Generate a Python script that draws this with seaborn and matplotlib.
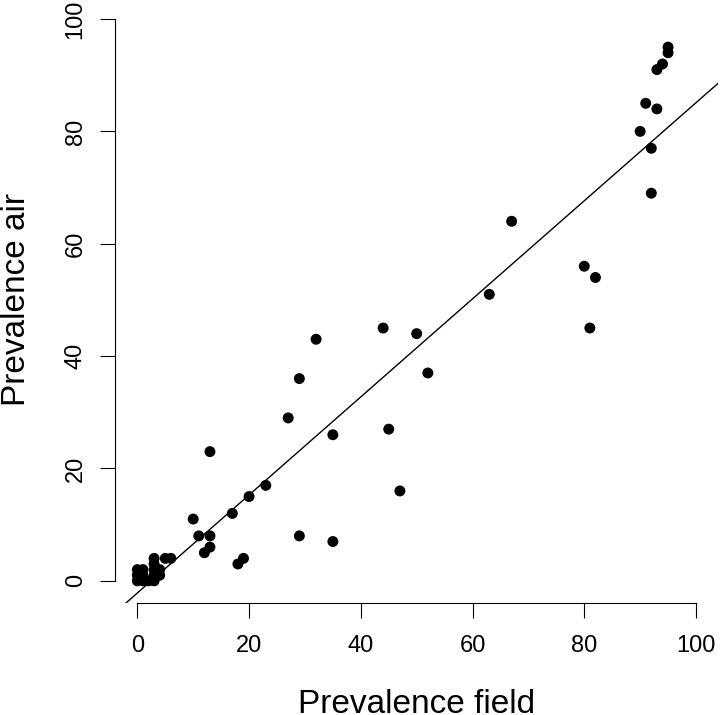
import matplotlib
matplotlib.use("Agg")
import matplotlib.pyplot as plt
import seaborn as sns
import pandas as pd

# prevalence values (percent)
field = [95, 95, 94, 93, 91, 93, 90, 92, 92,
         67, 63, 80, 82, 81,
         32, 44, 50, 52, 29, 27, 35, 45, 47,
         23, 20, 29, 35, 13, 17, 10, 11, 13, 13, 12, 19, 18, 5, 6,
         0, 0, 0, 1, 1, 1, 2, 3, 3, 3, 3, 3, 4, 4]
air = [95, 94, 92, 91, 85, 84, 80, 77, 69,
       64, 51, 56, 54, 45,
       43, 45, 44, 37, 36, 29, 26, 27, 16,
       17, 15, 8, 7, 23, 12, 11, 8, 8, 6, 5, 4, 3, 4, 4,
       0, 1, 2, 0, 1, 2, 0, 0, 1, 2, 3, 4, 1, 2]

ticks = [0, 20, 40, 60, 80, 100]

sns.set_style("ticks", {"axes.edgecolor": "black", "xtick.color": "black",
                        "ytick.color": "black", "text.color": "black",
                        "axes.labelcolor": "black"})
plt.rcParams["font.family"] = ["Liberation Sans", "DejaVu Sans"]

df = pd.DataFrame({"field": field, "air": air})

fig = plt.figure(figsize=(7.2, 7.15), dpi=100)
ax = fig.add_axes([0.1597, 0.1562, 0.838, 0.8486])
ax.set_xlim(-4, 104)
ax.set_ylim(-4, 104)

# points
sns.scatterplot(data=df, x="field", y="air", color="black", s=62,
                edgecolor="none", ax=ax, zorder=3)
# least squares line across the whole plot region
sns.regplot(data=df, x="field", y="air", scatter=False, ci=None,
            truncate=False, color="black", line_kws={"linewidth": 1.0}, ax=ax)
ax.set_xlim(-4, 104)
ax.set_ylim(-4, 104)

# base-R looking axes
sns.despine(ax=ax)
ax.spines["left"].set_bounds(0, 100)
ax.spines["bottom"].set_bounds(0, 100)
for side in ["left", "bottom"]:
    ax.spines[side].set_linewidth(0.8)

ax.set_xticks(ticks)
ax.set_yticks(ticks)
ax.set_xticklabels([str(t) for t in ticks])
ax.set_yticklabels([str(t) for t in ticks])
ax.tick_params(axis="both", direction="out", length=10.8, width=0.8,
               labelsize=17)
ax.tick_params(axis="x", pad=12)
ax.tick_params(axis="y", pad=9.6, labelrotation=90)
plt.setp(ax.get_yticklabels(), va="center")

ax.set_xlabel("Prevalence field", fontsize=24)
ax.set_ylabel("Prevalence air", fontsize=24)
ax.xaxis.set_label_coords(0.5, -0.1418)
ax.yaxis.set_label_coords(-0.1376, 0.5)

fig.savefig("out.png", dpi=100)
